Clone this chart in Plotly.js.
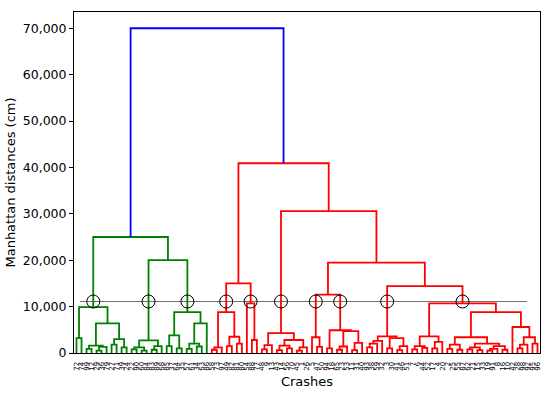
<!DOCTYPE html>
<html><head><meta charset="utf-8">
<script src="https://cdn.plot.ly/plotly-3.0.1.min.js"></script>
<style>html,body{margin:0;padding:0;background:#fff}#chart{width:550px;height:397px}</style>
</head><body><div id="chart"></div>
<script>
// Leaf (crash) labels, in dendrogram order
const leafLabels = ["72","74","99","12","29","36","79","27","71","39","24","22","90","60","84","83","89","68","85","37","64","35","57","61","34","63","86",
  "58","73","97","49","82","81","80","54","88","77","48","9","13","43","14","56","70","45","1","26","5","47","50","94","18","65","23","53","11","31","40","93","38","59","32","3","30","41","46","51","7","6","44","52","17","4","20","2","25","55","87","62","21","15","33","19","91","8","16","10","42","28","98","92","95","96"];

const cutHeight = 11100;        // horizontal cut line (cm)
const colorThreshold = 49000;   // links above are drawn in blue
const clusterColors = ['#008000', '#ff0000'];
const aboveColor = '#0000ff';
const yTickVals = [0, 10000, 20000, 30000, 40000, 50000, 60000, 70000];

// Subtrees: [mergeHeight, left, right]; 0 marks a leaf
const greenA = [9900, [3200, 0, 0],
  [6400, [1600, [900, 0, 0], [1300, [500, 0, 0], 0]], [3000, [1800, 0, 0], [1200, 0, 0]]]];
const greenB = [20000,
  [2700, [1200, [800, 0, 0], [500, 0, 0]], [1500, [700, 0, 0], 0]],
  [8800, [3800, [1500, 0, 0], [1000, 0, 0]], [6400, [2000, [900, 0, 0], [1400, 0, 0]], 0]]];
const redR1 = [15000,
  [8800, [1200, [700, 0, 0], 0], [3500, [1500, 0, 0], [2000, 0, 0]]],
  [10700, 0, [2800, 0, 0]]];
const redR2a = [4300, [1700, [800, 0, 0], 0],
  [2800, [1600, [600, 0, 0], [1000, 0, 0]], [1200, [500, 0, 0], 0]]];
const redR2bL = [12600, [3400, 0, [1300, 0, 0]],
  [4900, [1000, 0, 0], [4700, [1400, [700, 0, 0], 0], [2200, [600, 0, 0], 0]]]];
const redR2bRL = [3600, [2600, [2000, [1200, 0, 0], 0], 0], [3200, [1000, 0, 0], [1500, [600, 0, 0], 0]]];
const redR2bRRa = [3600, [1500, [800, 0, 0], [1100, 0, 0]], [2400, [1000, 0, 0], 0]];
const redR2bRRb1 = [3400, [1800, [900, 0, 0], [700, 0, 0]],
  [2000, [1200, [800, 0, 0], [600, 0, 0]], [1500, [900, [500, 0, 0], 0], [700, 0, 0]]]];
const redR2bRRb2 = [5600, 0, [3400, [1800, [1000, 0, 0], 0], [2000, 0, 0]]];

const redR2bR = [14400, redR2bRL, [10700, redR2bRRa, [8800, redR2bRRb1, redR2bRRb2]]];
const root = [70000, [25000, greenA, greenB],
  [40900, redR1, [30600, redR2a, [19500, redR2bL, redR2bR]]]];

// ---- build dendrogram geometry (scipy-style: leaves at 5, 15, 25, ...) ----
let leafCount = 0, clusterIdx = 0;
const segs = {};
const crossX = [];
function walk(node, inherited) {
  if (node === 0) { const x = 5 + 10 * leafCount; leafCount++; return {x: x, h: 0}; }
  const h = node[0];
  let c = inherited;
  if (h >= colorThreshold) c = aboveColor;
  else if (inherited === aboveColor || inherited === null) c = clusterColors[(clusterIdx++) % clusterColors.length];
  const L = walk(node[1], c), R = walk(node[2], c);
  if (!segs[c]) segs[c] = {x: [], y: []};
  segs[c].x.push(L.x, L.x, R.x, R.x, null);
  segs[c].y.push(L.h, h, h, R.h, null);
  if (h > cutHeight && L.h < cutHeight) crossX.push(L.x);
  if (h > cutHeight && R.h < cutHeight) crossX.push(R.x);
  return {x: (L.x + R.x) / 2, h: h};
}
walk(root, null);

const traces = Object.keys(segs).map(c => ({
  type: 'scatter', mode: 'lines', x: segs[c].x, y: segs[c].y,
  line: {color: c, width: 1.8}, hoverinfo: 'skip', connectgaps: false
}));
traces.push({
  type: 'scatter', mode: 'markers', x: crossX, y: crossX.map(() => cutHeight),
  marker: {symbol: 'circle-open', size: 13, color: '#000', line: {width: 1, color: '#000'}},
  hoverinfo: 'skip'
});

const leafTicks = leafLabels.map((_, i) => 5 + 10 * i);

const layout = {
  width: 550, height: 397,
  margin: {l: 74, r: 10, t: 12, b: 44},
  paper_bgcolor: '#fff', plot_bgcolor: '#fff',
  showlegend: false,
  font: {family: 'DejaVu Sans', color: '#000'},
  shapes: [{type: 'line', xref: 'paper', yref: 'y', x0: 0.013, x1: 0.972, y0: cutHeight, y1: cutHeight,
    line: {color: '#707070', width: 1.2}, layer: 'below'}],
  xaxis: {
    range: [0, 10 * leafCount], tickmode: 'array', tickvals: leafTicks, ticktext: leafLabels,
    tickangle: -90, tickfont: {size: 7}, ticks: 'outside', ticklen: 5, tickcolor: 'rgba(0,0,0,0)',
    showline: true, linecolor: '#000', linewidth: 1, mirror: true,
    showgrid: false, zeroline: false,
    title: {text: 'Crashes', font: {size: 13}, standoff: 7}
  },
  yaxis: {
    range: [0, 73500], tickmode: 'array', tickvals: yTickVals, tickformat: ',',
    ticks: 'outside', ticklen: 4, tickcolor: '#000', tickfont: {size: 12.5},
    showline: true, linecolor: '#000', linewidth: 1, mirror: true,
    showgrid: false, zeroline: false,
    title: {text: 'Manhattan distances (cm)', font: {size: 13}, standoff: 4}
  }
};

Plotly.newPlot('chart', traces, layout, {displayModeBar: false, staticPlot: true});
</script>
</body></html>
